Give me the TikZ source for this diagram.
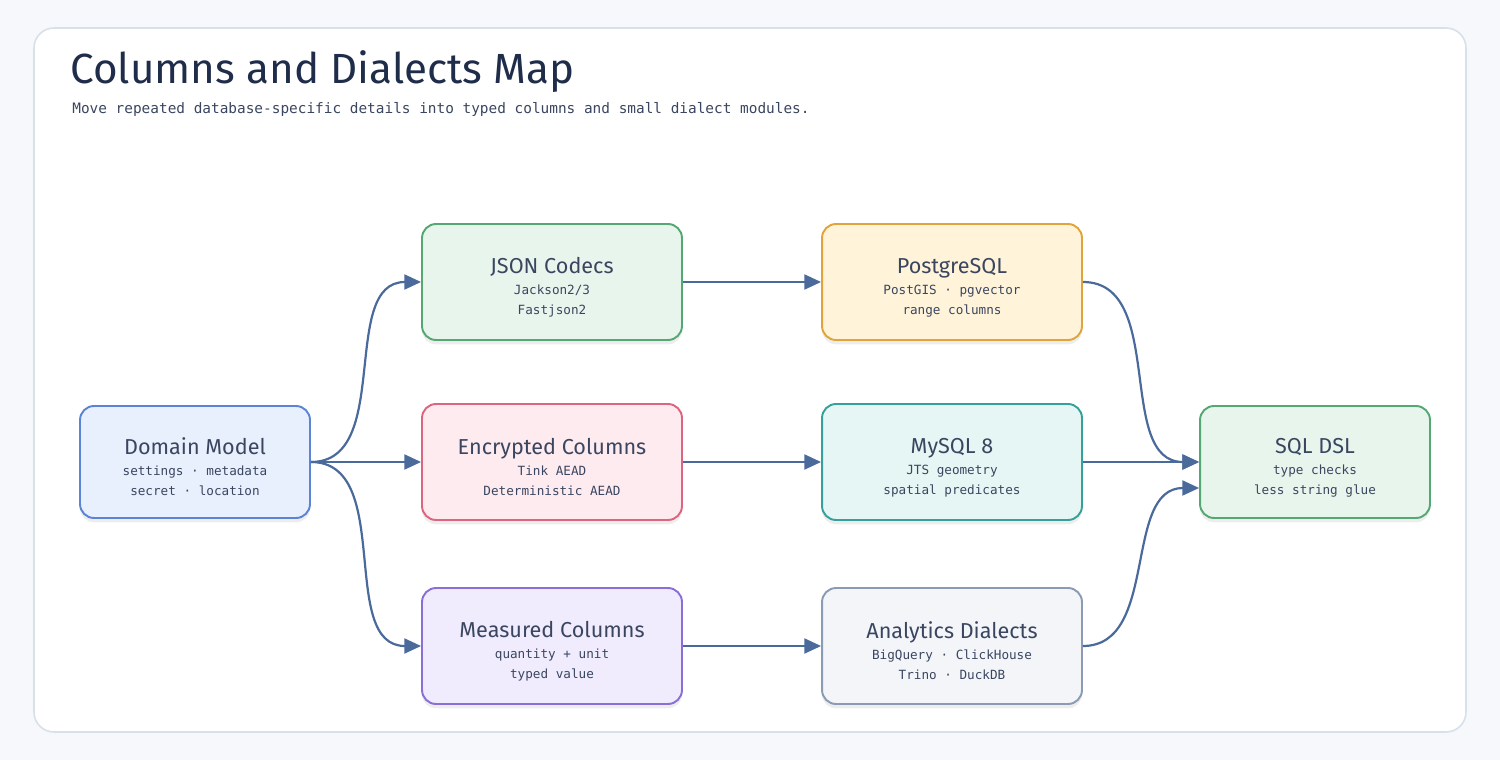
\documentclass[tikz,border=0pt]{standalone}
\usepackage{fontspec}
\setmainfont{Fira Sans}
\newfontfamily\monofont{DejaVu Sans Mono}
\usetikzlibrary{arrows.meta,positioning,shadows}
\definecolor{pagebg}{HTML}{F6F8FC}
\definecolor{cardbd}{HTML}{D8E0EA}
\definecolor{inkdark}{HTML}{1F2D4A}
\definecolor{inksub}{HTML}{3A4660}
\definecolor{flowcol}{HTML}{4A6A9C}
\definecolor{bluebd}{HTML}{5B84D6}
\definecolor{bluefill}{HTML}{E8F0FE}
\definecolor{greenbd}{HTML}{55A874}
\definecolor{greenfill}{HTML}{E8F5EC}
\definecolor{pinkbd}{HTML}{DC6680}
\definecolor{pinkfill}{HTML}{FDEBEF}
\definecolor{purplebd}{HTML}{8A6FD6}
\definecolor{purplefill}{HTML}{F0EBFD}
\definecolor{yellowbd}{HTML}{E0A43C}
\definecolor{yellowfill}{HTML}{FFF4DA}
\definecolor{tealbd}{HTML}{35A19A}
\definecolor{tealfill}{HTML}{E6F6F4}
\definecolor{graybd}{HTML}{8A9BB3}
\definecolor{grayfill}{HTML}{F3F5F9}
\newcommand\boxtitle[1]{{\rmfamily\fontsize{12.3}{14}\selectfont\rule{0pt}{15pt}#1}}
\tikzset{
    box/.style 2 args={draw=#1, fill=#2, line width=1.1pt, rounded corners=0.28cm,
        minimum width=5.2cm, minimum height=2.32cm, align=center, text=inksub,
        font=\monofont\fontsize{7.2}{11.3}\selectfont,
        drop shadow={shadow xshift=0pt, shadow yshift=-2.5pt, opacity=0.07, fill=black}},
    smallbox/.style={minimum width=4.6cm, minimum height=2.24cm},
    flow/.style={draw=flowcol, line width=1.25pt, -{Triangle[length=9.5pt, width=8.5pt]}}
}
\begin{document}
\begin{tikzpicture}[x=0.02cm, y=-0.02cm]
    % Page and card
    \fill[pagebg] (0,0) rectangle (1500,760);
    \useasboundingbox (0,0) rectangle (1500,760);
    \draw[cardbd, fill=white, line width=0.9pt, rounded corners=0.4cm] (34,28) rectangle (1466,732);

    % Heading
    \node[anchor=west, inner sep=0pt, text=inkdark, font=\fontsize{24}{28}\selectfont] (title) at (70,72)
        {Columns and Dialects Map};
    \node[anchor=west, inner sep=0pt, text=inksub, font=\monofont\fontsize{8.2}{10}\selectfont] (subtitle) at (72,109)
        {Move repeated database-specific details into typed columns and small dialect modules.};

    % Source
    \node[box={bluebd}{bluefill}, smallbox] (dom) at (195,462)
        {\boxtitle{Domain Model}\\[1pt] settings · metadata\\ secret · location};

    % Column types
    \node[box={greenbd}{greenfill}] (json) at (552,282)
        {\boxtitle{JSON Codecs}\\[1pt] Jackson2/3\\ Fastjson2};
    \node[box={pinkbd}{pinkfill}] (enc) at (552,462)
        {\boxtitle{Encrypted Columns}\\[1pt] Tink AEAD\\ Deterministic AEAD};
    \node[box={purplebd}{purplefill}] (meas) at (552,646)
        {\boxtitle{Measured Columns}\\[1pt] quantity + unit\\ typed value};

    % Dialects
    \node[box={yellowbd}{yellowfill}] (pg) at (952,282)
        {\boxtitle{PostgreSQL}\\[1pt] PostGIS · pgvector\\ range columns};
    \node[box={tealbd}{tealfill}] (mysql) at (952,462)
        {\boxtitle{MySQL 8}\\[1pt] JTS geometry\\ spatial predicates};
    \node[box={graybd}{grayfill}] (ana) at (952,646)
        {\boxtitle{Analytics Dialects}\\[1pt] BigQuery · ClickHouse\\ Trino · DuckDB};

    % Target
    \node[box={greenbd}{greenfill}, smallbox] (dsl) at (1315,462)
        {\boxtitle{SQL DSL}\\[1pt] type checks\\ less string glue};

    % Arrows
    \draw[flow] (dom.east) to[out=0, in=180] (json.west);
    \draw[flow] (dom.east) -- (enc.west);
    \draw[flow] (dom.east) to[out=0, in=180] (meas.west);
    \draw[flow] (json.east) -- (pg.west);
    \draw[flow] (enc.east) -- (mysql.west);
    \draw[flow] (meas.east) -- (ana.west);
    \draw[flow] (pg.east) to[out=0, in=180] (dsl.west);
    \draw[flow] (mysql.east) -- (dsl.west);
    \draw[flow] (ana.east) to[out=0, in=180] ([yshift=-0.52cm]dsl.west);
\end{tikzpicture}
\end{document}
